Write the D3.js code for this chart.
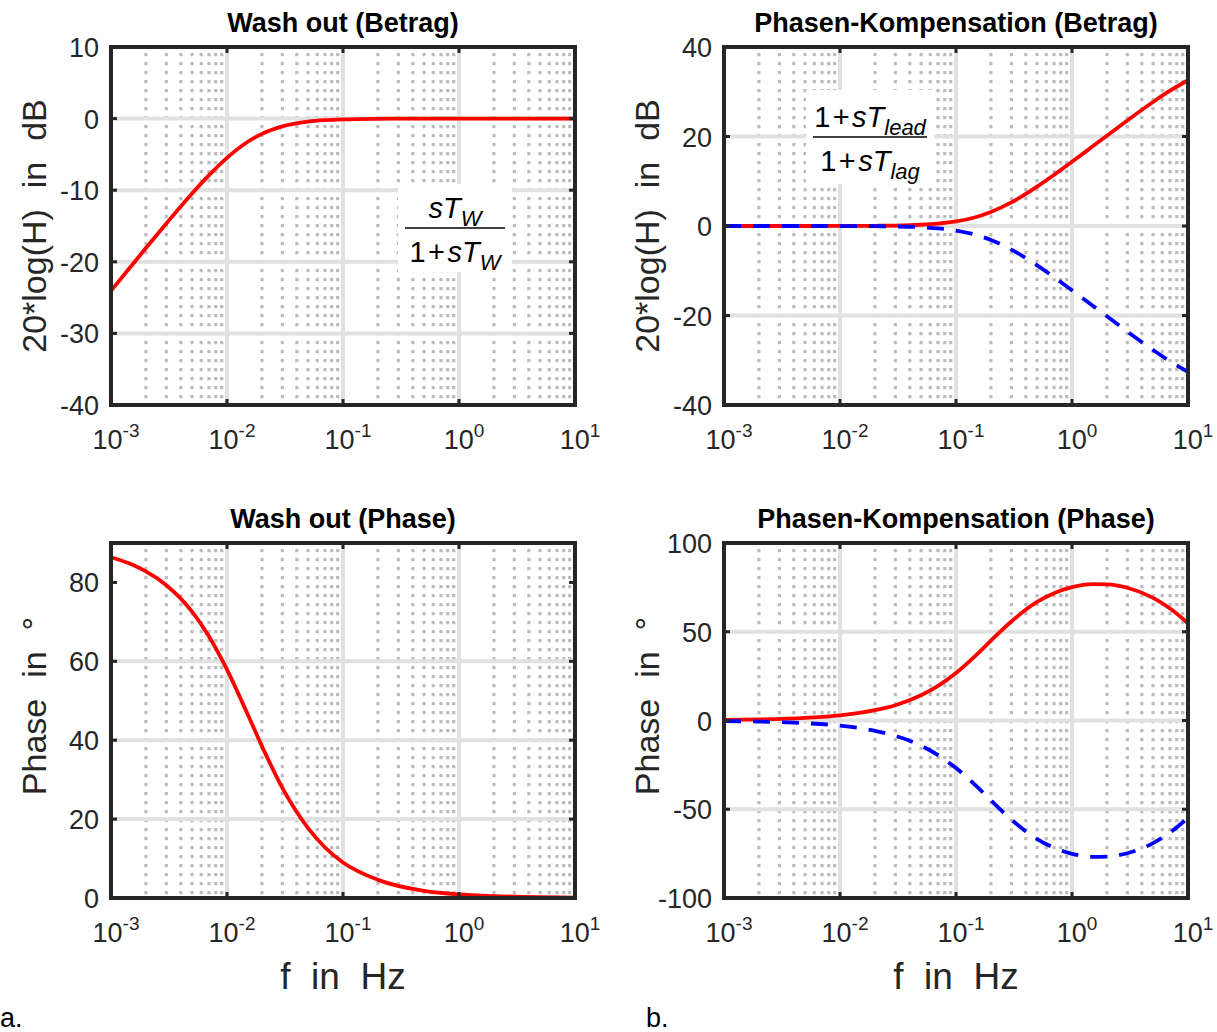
<!DOCTYPE html>
<html>
<head>
<meta charset="utf-8">
<script src="https://cdn.jsdelivr.net/npm/d3@7"></script>
<style>
  body { margin: 0; background: #fff; }
  text { font-family: "Liberation Sans", Arial, sans-serif; }
</style>
</head>
<body>
<div id="chart"></div>
<script>
// frequencies (Hz) and values
const freqWash = [0.001, 0.0015, 0.002, 0.003, 0.005, 0.007, 0.01, 0.015, 0.02, 0.03, 0.05, 0.07, 0.1, 0.2, 0.5, 1, 2, 5, 10];
const washMag = [-24.06, -20.56, -18.08, -14.65, -10.46, -7.90, -5.48, -3.27, -2.13, -1.08, -0.42, -0.22, -0.11, -0.03, 0, 0, 0, 0, 0];
const washPhase = [86.4, 84.6, 82.8, 79.3, 72.6, 66.3, 57.9, 46.7, 38.5, 27.9, 17.7, 12.8, 9.0, 4.6, 1.8, 0.9, 0.5, 0.2, 0.1];

const freqComp = [0.001, 0.002, 0.005, 0.01, 0.02, 0.03, 0.05, 0.07, 0.1, 0.15, 0.2, 0.3, 0.5, 0.7, 1, 1.5, 2, 3, 5, 7, 10];
const leadMag = [0, 0, 0, 0.01, 0.05, 0.1, 0.28, 0.53, 1.01, 2.02, 3.12, 5.27, 8.79, 11.42, 14.34, 17.75, 20.18, 23.59, 27.71, 30.23, 32.57];
const lagMag = [0, 0, 0, -0.01, -0.05, -0.1, -0.28, -0.53, -1.01, -2.02, -3.12, -5.27, -8.79, -11.42, -14.34, -17.75, -20.18, -23.59, -27.71, -30.23, -32.57];
const leadPhase = [0.3, 0.6, 1.5, 2.9, 5.8, 8.6, 14.2, 19.5, 26.8, 37.0, 45.0, 55.8, 66.8, 71.7, 75.1, 76.8, 76.7, 74.8, 69.1, 63.1, 54.8];
const lagPhase = [-0.3, -0.6, -1.5, -2.9, -5.8, -8.6, -14.2, -19.5, -26.8, -37.0, -45.0, -55.8, -66.8, -71.7, -75.1, -76.8, -76.7, -74.8, -69.1, -63.1, -54.8];

const decades = [-3, -2, -1, 0, 1];
const yTicksMagWash = [-40, -30, -20, -10, 0, 10];
const yTicksMagComp = [-40, -20, 0, 20, 40];
const yTicksPhaseWash = [0, 20, 40, 60, 80];
const yTicksPhaseComp = [-100, -50, 0, 50, 100];

const W = 1217, H = 1032;
const ink = "#262626";

const svg = d3.select("#chart").append("svg")
    .attr("width", W)
    .attr("height", H);

function panel(p) {
    const x = d3.scaleLog().domain([1e-3, 10]).range([p.left, p.right]);
    const y = d3.scaleLinear().domain(p.ydom).range([p.bottom, p.top]);
    const g = svg.append("g");

    // minor grid (dotted)
    const minors = [];
    decades.slice(0, -1).forEach(e => {
        for (let k = 2; k <= 9; k++) minors.push(k * Math.pow(10, e));
    });
    g.selectAll(".minor").data(minors).join("line")
        .attr("x1", d => x(d)).attr("x2", d => x(d))
        .attr("y1", p.top + 6).attr("y2", p.bottom)
        .attr("stroke", "#bcbcbc")
        .attr("stroke-width", 3.2)
        .attr("stroke-dasharray", "3.2,5.8");

    // major grid
    g.selectAll(".gx").data(decades.slice(1, -1)).join("line")
        .attr("x1", d => x(Math.pow(10, d))).attr("x2", d => x(Math.pow(10, d)))
        .attr("y1", p.top).attr("y2", p.bottom)
        .attr("stroke", "#e1e1e1").attr("stroke-width", 4);
    g.selectAll(".gy").data(p.yticks.slice(1, -1)).join("line")
        .attr("x1", p.left).attr("x2", p.right)
        .attr("y1", d => y(d)).attr("y2", d => y(d))
        .attr("stroke", "#e1e1e1").attr("stroke-width", 4);

    // curves
    p.series.forEach(s => {
        const line = d3.line()
            .x((d, i) => x(s.f[i]))
            .y(d => y(d))
            .curve(d3.curveMonotoneX);
        g.append("path")
            .datum(s.v)
            .attr("d", line)
            .attr("fill", "none")
            .attr("stroke", s.color)
            .attr("stroke-width", 3.8)
            .attr("stroke-dasharray", s.dash || null);
    });

    // formula box
    if (p.formula) p.formula(g);

    // frame
    g.append("rect")
        .attr("x", p.left).attr("y", p.top)
        .attr("width", p.right - p.left).attr("height", p.bottom - p.top)
        .attr("fill", "none").attr("stroke", ink).attr("stroke-width", 4);

    // ticks
    decades.forEach(e => {
        const xx = x(Math.pow(10, e));
        g.append("line").attr("x1", xx).attr("x2", xx).attr("y1", p.bottom).attr("y2", p.bottom - 6)
            .attr("stroke", ink).attr("stroke-width", 3);
        g.append("line").attr("x1", xx).attr("x2", xx).attr("y1", p.top).attr("y2", p.top + 6)
            .attr("stroke", ink).attr("stroke-width", 3);
        const t = g.append("text")
            .attr("x", xx + 5).attr("y", p.bottom + 44)
            .attr("text-anchor", "middle")
            .attr("fill", ink)
            .attr("font-size", 27);
        t.append("tspan").text("10");
        t.append("tspan").attr("dy", -12).attr("font-size", 19).text(e);
    });
    p.yticks.forEach(v => {
        g.append("line").attr("x1", p.left).attr("x2", p.left + 6).attr("y1", y(v)).attr("y2", y(v))
            .attr("stroke", ink).attr("stroke-width", 3);
        g.append("line").attr("x1", p.right).attr("x2", p.right - 6).attr("y1", y(v)).attr("y2", y(v))
            .attr("stroke", ink).attr("stroke-width", 3);
        g.append("text")
            .attr("x", p.left - 12).attr("y", y(v) + 10)
            .attr("text-anchor", "end")
            .attr("fill", ink)
            .attr("font-size", 27)
            .text(v);
    });

    // title
    g.append("text")
        .attr("x", (p.left + p.right) / 2).attr("y", p.top - 15)
        .attr("text-anchor", "middle")
        .attr("font-weight", "bold")
        .attr("font-size", 27)
        .attr("fill", "#000")
        .text(p.title);

    // y label
    g.append("text")
        .attr("transform", `translate(${p.left - 65},${p.ymid || (p.top + p.bottom) / 2}) rotate(-90)`)
        .attr("text-anchor", "middle")
        .attr("fill", ink)
        .attr("font-size", 34)
        .attr("word-spacing", 1)
        .style("white-space", "pre")
        .text(p.ylabel);

    if (p.xlabel) {
        g.append("text")
            .attr("x", (p.left + p.right) / 2).attr("y", p.bottom + 91)
            .attr("text-anchor", "middle")
            .attr("fill", ink)
            .attr("font-size", 37)
            .style("white-space", "pre")
            .text(p.xlabel);
    }
}

function fraction(g, cx, lineY, half, boxW, boxH, numParts, denParts) {
    g.append("rect")
        .attr("x", cx - boxW / 2).attr("y", lineY - boxH / 2)
        .attr("width", boxW).attr("height", boxH)
        .attr("fill", "#fff");
    g.append("line")
        .attr("x1", cx - half).attr("x2", cx + half)
        .attr("y1", lineY).attr("y2", lineY)
        .attr("stroke", "#000").attr("stroke-width", 1.5);
    [[numParts, lineY - 10], [denParts, lineY + 34]].forEach(([parts, yy]) => {
        const t = g.append("text")
            .attr("x", cx).attr("y", yy)
            .attr("text-anchor", "middle")
            .attr("fill", "#000")
            .attr("font-size", 29);
        parts.forEach(pt => {
            const ts = t.append("tspan").text(pt.t);
            if (pt.i) ts.attr("font-style", "italic");
            if (pt.sub) ts.attr("font-size", 22).attr("dy", 8);
        });
    });
}

const plus = "1\u200a+\u200a";

panel({
    left: 111, right: 575, top: 47, bottom: 405,
    ydom: [-40, 10], yticks: yTicksMagWash,
    title: "Wash out (Betrag)",
    ylabel: "20*log(H)  in  dB",
    series: [{ f: freqWash, v: washMag, color: "#ff0000" }],
    formula: g => fraction(g, 455, 228, 50, 114, 88,
        [{ t: "sT", i: true }, { t: "W", i: true, sub: true }],
        [{ t: plus }, { t: "sT", i: true }, { t: "W", i: true, sub: true }])
});

panel({
    left: 724, right: 1188, top: 47, bottom: 405,
    ydom: [-40, 40], yticks: yTicksMagComp,
    title: "Phasen-Kompensation (Betrag)",
    ylabel: "20*log(H)  in  dB",
    series: [
        { f: freqComp, v: leadMag, color: "#ff0000" },
        { f: freqComp, v: lagMag, color: "#0000ff", dash: "17,12" }
    ],
    formula: g => fraction(g, 870, 137, 57, 128, 94,
        [{ t: plus }, { t: "sT", i: true }, { t: "lead", i: true, sub: true }],
        [{ t: plus }, { t: "sT", i: true }, { t: "lag", i: true, sub: true }])
});

panel({
    left: 111, right: 575, top: 543, bottom: 898,
    ydom: [0, 90], yticks: yTicksPhaseWash,
    title: "Wash out (Phase)",
    ylabel: "Phase  in  °",
    ymid: 706,
    xlabel: "f  in  Hz",
    series: [{ f: freqWash, v: washPhase, color: "#ff0000" }]
});

panel({
    left: 724, right: 1188, top: 543, bottom: 898,
    ydom: [-100, 100], yticks: yTicksPhaseComp,
    title: "Phasen-Kompensation (Phase)",
    ylabel: "Phase  in  °",
    ymid: 706,
    xlabel: "f  in  Hz",
    series: [
        { f: freqComp, v: leadPhase, color: "#ff0000" },
        { f: freqComp, v: lagPhase, color: "#0000ff", dash: "17,12" }
    ]
});

svg.append("text").attr("x", 0).attr("y", 1027).attr("font-size", 27).attr("fill", "#000").text("a.");
svg.append("text").attr("x", 646).attr("y", 1027).attr("font-size", 27).attr("fill", "#000").text("b.");
</script>
</body>
</html>
